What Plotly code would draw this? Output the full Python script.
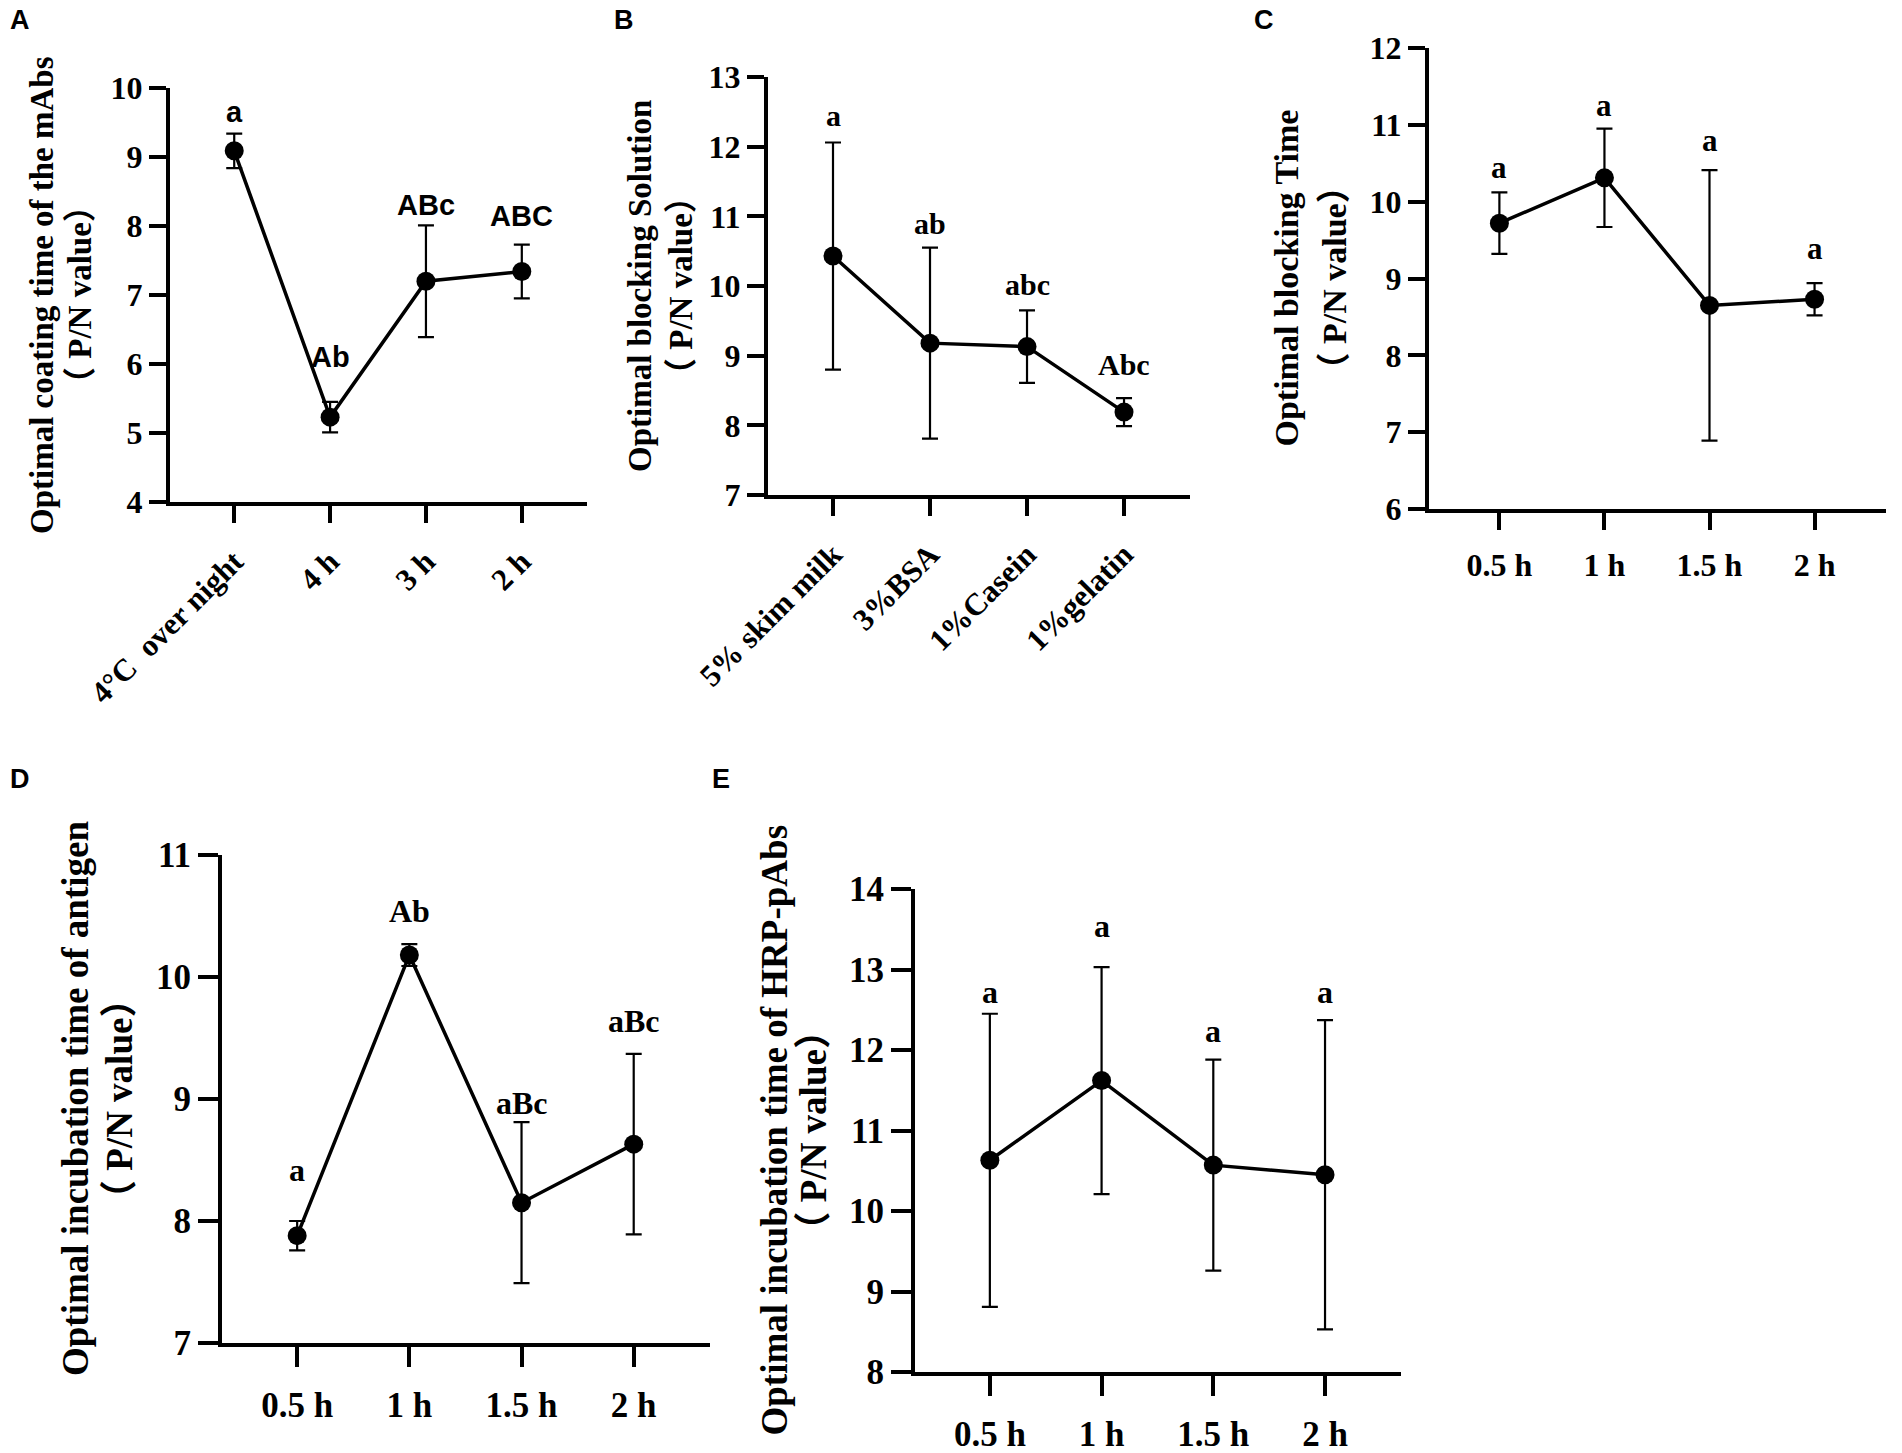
import plotly.graph_objects as go

W, H = 1902, 1453

# ---------------- data ----------------
a_cats = ["4°C\u00a0\u00a0over night", "4 h", "3 h", "2 h"]
a_mean = [9.09, 5.23, 7.20, 7.34]
a_err = [0.25, 0.22, 0.81, 0.39]
a_letters = ["a", "Ab", "ABc", "ABC"]
a_letter_y = [9.65, 6.10, 8.30, 8.14]

b_cats = ["5% skim milk", "3%BSA", "1%Casein", "1%gelatin"]
b_mean = [10.43, 9.18, 9.13, 8.19]
b_err = [1.63, 1.37, 0.52, 0.20]
b_letters = ["a", "ab", "abc", "Abc"]
b_letter_y = [12.45, 10.90, 10.02, 8.87]

c_cats = ["0.5 h", "1 h", "1.5 h", "2 h"]
c_mean = [9.72, 10.31, 8.65, 8.73]
c_err = [0.40, 0.64, 1.76, 0.21]
c_letters = ["a", "a", "a", "a"]
c_letter_y = [10.44, 11.25, 10.80, 9.39]

d_cats = ["0.5 h", "1 h", "1.5 h", "2 h"]
d_mean = [7.88, 10.18, 8.15, 8.63]
d_err = [0.12, 0.09, 0.66, 0.74]
d_letters = ["a", "Ab", "aBc", "aBc"]
d_letter_y = [8.42, 10.54, 8.97, 9.64]

e_cats = ["0.5 h", "1 h", "1.5 h", "2 h"]
e_mean = [10.63, 11.62, 10.57, 10.45]
e_err = [1.82, 1.41, 1.31, 1.92]
e_letters = ["a", "a", "a", "a"]
e_letter_y = [12.72, 13.54, 12.23, 12.72]

a_title = ["Optimal coating time of the mAbs", "（ P/N value）"]
b_title = ["Optimal blocking Solution", "（ P/N value）"]
c_title = ["Optimal blocking Time", "（ P/N value）"]
d_title = ["Optimal incubation time of antigen", "（ P/N value）"]
e_title = ["Optimal incubation time of HRP-pAbs", "（ P/N value）"]

# ---------------- layout helpers ----------------
SERIF = "Liberation Serif, Times New Roman, Noto Sans CJK SC, serif"
SANS = "Liberation Sans, Arial, sans-serif"

fig = go.Figure()


def px_x(v):
    return v / W


def px_y(v):
    return 1 - v / H


panels = [
    dict(k="1", cats=a_cats, mean=a_mean, err=a_err, let=a_letters, ly=a_letter_y, title=a_title,
         yr=(4, 10), x0=170, x1=587, yt=88, yb=502, tick=32, xtick=31, tfont=33, lfont=29, lfam=SANS,
         angle=-45, tx=(42, 80), letter="A", lx=8, lyp=20, tl=17),
    dict(k="2", cats=b_cats, mean=b_mean, err=b_err, let=b_letters, ly=b_letter_y, title=b_title,
         yr=(7, 13), x0=768, x1=1190, yt=77, yb=495, tick=32, xtick=31, tfont=33, lfont=30, lfam=SERIF,
         angle=-45, tx=(640, 681), letter="B", lx=612, lyp=20, tl=17),
    dict(k="3", cats=c_cats, mean=c_mean, err=c_err, let=c_letters, ly=c_letter_y, title=c_title,
         yr=(6, 12), x0=1429, x1=1886, yt=48, yb=509, tick=32, xtick=32, tfont=34, lfont=31, lfam=SERIF,
         angle=0, tx=(1286, 1334), letter="C", lx=1252, lyp=20, tl=17),
    dict(k="4", cats=d_cats, mean=d_mean, err=d_err, let=d_letters, ly=d_letter_y, title=d_title,
         yr=(7, 11), x0=222, x1=710, yt=855, yb=1343, tick=35, xtick=35, tfont=37, lfont=32, lfam=SERIF,
         angle=0, tx=(75, 119), letter="D", lx=8, lyp=779, tl=20),
    dict(k="5", cats=e_cats, mean=e_mean, err=e_err, let=e_letters, ly=e_letter_y, title=e_title,
         yr=(8, 14), x0=915, x1=1401, yt=889, yb=1372, tick=35, xtick=35, tfont=37, lfont=32, lfam=SERIF,
         angle=0, tx=(774, 813), letter="E", lx=710, lyp=779, tl=20),
]

annotations = []
for p in panels:
    k = p["k"]
    xa = "x" if k == "1" else "x" + k
    ya = "y" if k == "1" else "y" + k
    idx = list(range(len(p["cats"])))
    fig.add_trace(go.Scatter(
        x=idx, y=p["mean"], xaxis=xa, yaxis=ya, mode="lines+markers",
        line=dict(color="black", width=3.5),
        marker=dict(color="black", size=19),
        error_y=dict(type="data", array=p["err"], visible=True, color="black",
                     thickness=2.2, width=8),
        showlegend=False, hoverinfo="skip",
    ))
    axis_common = dict(showline=True, linecolor="black", linewidth=4, ticks="outside",
                       ticklen=p["tl"], tickwidth=4, tickcolor="black", showgrid=False,
                       zeroline=False, mirror=False, automargin=False)
    xkey = "xaxis" if k == "1" else "xaxis" + k
    ykey = "yaxis" if k == "1" else "yaxis" + k
    fig.update_layout(**{
        xkey: dict(axis_common, domain=[px_x(p["x0"]), px_x(p["x1"])], anchor=ya,
                   range=[-0.67, len(idx) - 1 + 0.68], tickvals=idx, ticktext=p["cats"],
                   tickangle=p["angle"], ticklabelstandoff=8,
                   tickfont=dict(family=SERIF, size=p["xtick"], color="black", weight="bold")),
        ykey: dict(axis_common, domain=[px_y(p["yb"]), px_y(p["yt"])], anchor=xa,
                   range=list(p["yr"]), dtick=1, tick0=p["yr"][0], ticklabelstandoff=0,
                   tickfont=dict(family=SERIF, size=p["tick"], color="black", weight="bold")),
    })
    # significance letters
    for i, (t, yv) in enumerate(zip(p["let"], p["ly"])):
        annotations.append(dict(x=i, y=yv, xref=xa, yref=ya, text=t, showarrow=False,
                                font=dict(family=p["lfam"], size=p["lfont"], color="black",
                                          weight="bold"),
                                xanchor="center", yanchor="middle"))
    # axis titles (two lines)
    ymid = px_y((p["yt"] + p["yb"]) / 2)
    for j, line in enumerate(p["title"]):
        annotations.append(dict(x=px_x(p["tx"][j]), y=ymid, xref="paper", yref="paper",
                                text=line, textangle=-90, showarrow=False,
                                font=dict(family=SERIF, size=p["tfont"], color="black",
                                          weight="bold"),
                                xanchor="center", yanchor="middle"))
    # panel letter
    annotations.append(dict(x=px_x(p["lx"]), y=px_y(p["lyp"]), xref="paper", yref="paper",
                            text=p["letter"], showarrow=False,
                            font=dict(family=SANS, size=27, color="black", weight="bold"),
                            xanchor="left", yanchor="middle"))

fig.update_layout(
    width=W, height=H, margin=dict(l=0, r=0, t=0, b=0, autoexpand=False),
    paper_bgcolor="white", plot_bgcolor="white",
    annotations=annotations,
)

fig.write_html("out.html", config={"displayModeBar": False},
               post_script="document.body.style.margin='0';document.body.style.overflow='hidden';")
